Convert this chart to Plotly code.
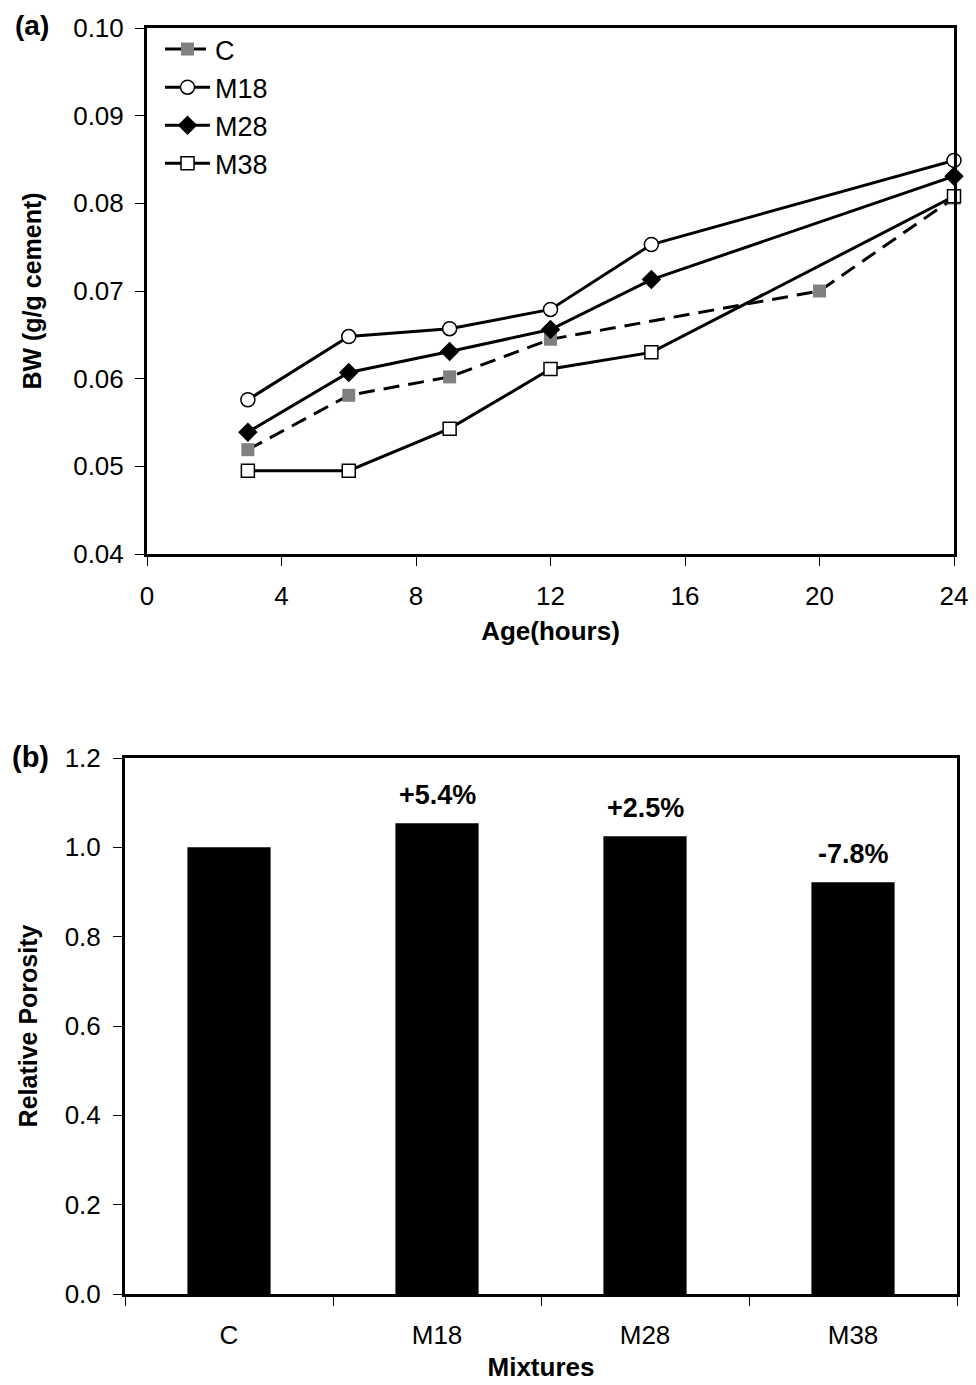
import plotly.graph_objects as go

# ---- Panel (a) data ----
age_c = [3, 6, 9, 12, 20, 24]
bw_c = [0.0519, 0.0581, 0.0602, 0.0645, 0.0700, 0.0806]
age_m = [3, 6, 9, 12, 15, 24]
bw_m18 = [0.0576, 0.0648, 0.0657, 0.0679, 0.0753, 0.0849]
bw_m28 = [0.0539, 0.0607, 0.0631, 0.0656, 0.0713, 0.0831]
bw_m38 = [0.0495, 0.0495, 0.0543, 0.0611, 0.0630, 0.0808]
x_ticks_a = [0, 4, 8, 12, 16, 20, 24]
y_ticks_a = [0.04, 0.05, 0.06, 0.07, 0.08, 0.09, 0.10]

# ---- Panel (b) data ----
mixtures = ["C", "M18", "M28", "M38"]
rel_porosity = [1.0, 1.054, 1.025, 0.922]
change_labels = ["", "+5.4%", "+2.5%", "-7.8%"]
y_ticks_b = [0.0, 0.2, 0.4, 0.6, 0.8, 1.0, 1.2]

FONT = "Liberation Sans, Arial, sans-serif"
W, H = 976, 1385
OFF = 8  # default page body margin

fig = go.Figure()

fig.add_trace(go.Scatter(
    x=age_c, y=bw_c, name="C", mode="lines+markers",
    line=dict(color="black", width=3, dash="16px,9px"),
    marker=dict(symbol="square", size=13, color="#808080", line=dict(width=0)),
    xaxis="x", yaxis="y", cliponaxis=False))
fig.add_trace(go.Scatter(
    x=age_m, y=bw_m18, name="M18", mode="lines+markers",
    line=dict(color="black", width=3),
    marker=dict(symbol="circle", size=14, color="white", line=dict(color="black", width=1.5)),
    xaxis="x", yaxis="y", cliponaxis=False))
fig.add_trace(go.Scatter(
    x=age_m, y=bw_m28, name="M28", mode="lines+markers",
    line=dict(color="black", width=3),
    marker=dict(symbol="diamond", size=15, color="black"),
    xaxis="x", yaxis="y", cliponaxis=False))
fig.add_trace(go.Scatter(
    x=age_m, y=bw_m38, name="M38", mode="lines+markers",
    line=dict(color="black", width=3),
    marker=dict(symbol="square", size=13, color="white", line=dict(color="black", width=1.5)),
    xaxis="x", yaxis="y", cliponaxis=False))

fig.add_trace(go.Bar(
    x=mixtures, y=rel_porosity, marker=dict(color="black", line=dict(width=0)),
    width=0.4, showlegend=False, xaxis="x2", yaxis="y2"))

for m, v, t in zip(mixtures, rel_porosity, change_labels):
    if t:
        fig.add_annotation(x=m, y=v, xref="x2", yref="y2", text="<b>%s</b>" % t,
                           showarrow=False, yanchor="bottom", yshift=11,
                           font=dict(family=FONT, size=27, color="black"))

def px_x(p):
    return (p - OFF) / W

def px_y(p):
    return 1 - (p - OFF) / H

axis_common = dict(showline=True, linecolor="black", linewidth=3, mirror=True,
                   ticks="outside", ticklen=9, tickwidth=1, tickcolor="black",
                   showgrid=False, zeroline=False, automargin=False,
                   tickfont=dict(family=FONT, size=26, color="black"))

fig.update_layout(
    width=W, height=H, plot_bgcolor="white", paper_bgcolor="white",
    margin=dict(l=0, r=0, t=0, b=0),
    font=dict(family=FONT, color="black"),
    xaxis=dict(domain=[px_x(147), px_x(954)], anchor="y", range=[0, 24],
               tickvals=x_ticks_a, ticklabelstandoff=8,
               title=dict(text="<b>Age(hours)</b>", font=dict(size=26), standoff=12),
               **axis_common),
    yaxis=dict(domain=[px_y(554), px_y(28)], anchor="x", range=[0.04, 0.10],
               tickvals=y_ticks_a, tickformat=".2f", ticklabelstandoff=6,
               title=dict(text="<b>BW (g/g cement)</b>", font=dict(size=25), standoff=25),
               **axis_common),
    xaxis2=dict(domain=[px_x(125), px_x(957)], anchor="y2", tickson="boundaries",
                ticklabelstandoff=16,
                title=dict(text="<b>Mixtures</b>", font=dict(size=26), standoff=9),
                **axis_common),
    yaxis2=dict(domain=[px_y(1294), px_y(758)], anchor="x2", range=[0, 1.2],
                tickvals=y_ticks_b, tickformat=".1f", ticklabelstandoff=7,
                title=dict(text="<b>Relative Porosity</b>", font=dict(size=25), standoff=20),
                **axis_common),
    legend=dict(x=px_x(160), y=px_y(25), xanchor="left", yanchor="top",
                bgcolor="rgba(0,0,0,0)", font=dict(family=FONT, size=27, color="black"),
                tracegroupgap=0, itemwidth=45),
    showlegend=True,
)

fig.add_annotation(x=px_x(13), y=1, xref="paper", yref="paper", text="<b>(a)</b>",
                   showarrow=False, xanchor="left", yanchor="top",
                   font=dict(family=FONT, size=28, color="black"))
fig.add_annotation(x=px_x(10), y=px_y(757), xref="paper", yref="paper", text="<b>(b)</b>",
                   showarrow=False, xanchor="left", yanchor="middle",
                   font=dict(family=FONT, size=29, color="black"))

fig.write_html("out.html")
